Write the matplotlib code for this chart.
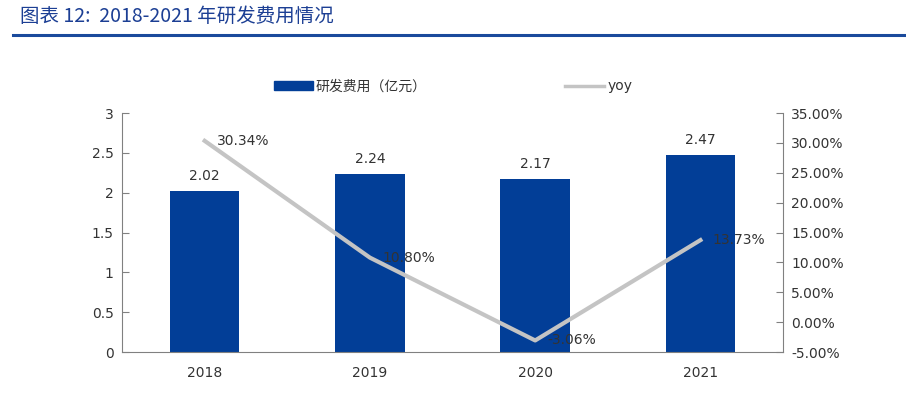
import matplotlib
matplotlib.use("Agg")
import matplotlib.pyplot as plt
from matplotlib.lines import Line2D
from matplotlib.patches import Patch

plt.rcParams['font.family'] = ['DejaVu Sans', 'Noto Sans CJK SC']

years = ["2018", "2019", "2020", "2021"]
rd_cost = [2.02, 2.24, 2.17, 2.47]          # 亿元
yoy = [30.34, 10.80, -3.06, 13.73]           # %

BAR_C = "#023e97"
LINE_C = "#c4c4c4"
TXT_C = "#333333"
SPINE_C = "#808080"
FS = 10

fig = plt.figure(figsize=(9.06, 3.96), dpi=100)
ax = fig.add_axes([0.1347, 0.111, 0.7296, 0.6036])
ax2 = ax.twinx()

x = range(len(years))
ax.bar(x, rd_cost, width=0.42, color=BAR_C, zorder=2)
for i, v in enumerate(rd_cost):
    ax.text(i, v + 0.1, f"{v:.2f}", ha="center", va="bottom", fontsize=FS, color=TXT_C)

ax.set_xlim(-0.5, 3.5)
ax.set_ylim(0, 3)
ax.set_yticks([0, 0.5, 1, 1.5, 2, 2.5, 3])
ax.set_yticklabels(["0", "0.5", "1", "1.5", "2", "2.5", "3"])
ax.set_xticks(list(x))
ax.set_xticklabels(years)

ax2.plot(list(x), yoy, color=LINE_C, lw=3, zorder=3)
for i, v in enumerate(yoy):
    ax2.annotate(f"{v:.2f}%", (i, v), xytext=(9, 0), textcoords="offset points",
                 ha="left", va="center", fontsize=FS, color=TXT_C, zorder=5)
ax2.set_ylim(-5, 35)
ax2.set_yticks(range(-5, 36, 5))
ax2.set_yticklabels([f"{t:.2f}%" for t in range(-5, 36, 5)])

for a in (ax, ax2):
    a.spines["top"].set_visible(False)
    for s in ("left", "right", "bottom"):
        a.spines[s].set_color(SPINE_C)
    a.tick_params(axis="y", direction="in", length=5, color=SPINE_C, labelsize=FS, labelcolor=TXT_C, pad=6)
ax.tick_params(axis="x", length=0, labelsize=FS, labelcolor=TXT_C, pad=10)
ax.spines["right"].set_visible(False)
ax2.spines["left"].set_visible(False)
ax2.spines["bottom"].set_visible(False)

handles = [Patch(color=BAR_C), Line2D([0], [0], color=LINE_C, lw=2.5)]
fig.legend(handles, ["研发费用（亿元）", "yoy"], loc="center", bbox_to_anchor=(0.5, 0.782),
           ncol=2, frameon=False, fontsize=FS, labelcolor=TXT_C, columnspacing=10,
           handlelength=2.8, handletextpad=0.2, handleheight=0.6)

fig.text(0.022, 0.958, "图表 12:  2018-2021 年研发费用情况", fontsize=14, color="#1c3f94",
         style="italic", va="center", ha="left",
         family=["Noto Sans CJK SC", "DejaVu Sans"])
fig.add_artist(Line2D([0.014, 1.0], [0.911, 0.911], color="#1a4a9c", lw=2.2))

fig.savefig("out.png", dpi=100)
